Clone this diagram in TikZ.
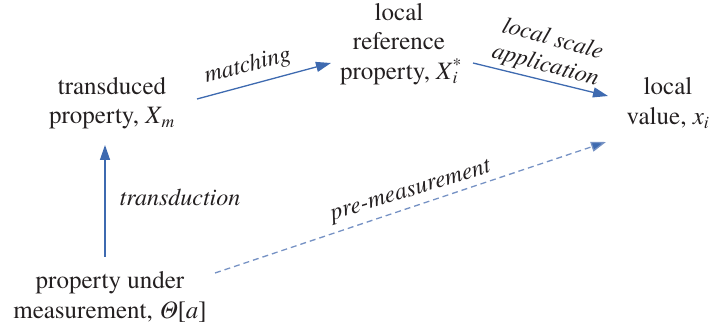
\documentclass[tikz,border=0pt]{standalone}
\usepackage{fontspec}
\setmainfont{texgyretermes}[Extension=.otf,UprightFont=*-regular,ItalicFont=*-italic,BoldFont=*-bold,BoldItalicFont=*-bolditalic]
\usetikzlibrary{arrows.meta}
\definecolor{arrowblue}{RGB}{62,106,176}
\definecolor{dashblue}{RGB}{118,146,196}
\definecolor{txt}{RGB}{35,31,32}
\tikzset{
  state/.style={align=center,text=txt,inner sep=0pt,font=\fontsize{25}{29.5}\selectfont},
  lbl/.style={text=txt,inner sep=0pt,font=\fontsize{24}{27}\selectfont\itshape,align=center},
  conn/.style={draw=arrowblue,line width=1.3pt,-{Triangle[length=15pt,width=10pt,fill=arrowblue]}},
  dconn/.style={draw=dashblue,line width=1.3pt,dash pattern=on 6pt off 4pt,-{Triangle[length=15pt,width=10pt,fill=arrowblue]}}
}
\begin{document}
\begin{tikzpicture}[x=1pt,y=-1pt]
\useasboundingbox (0,0) rectangle (709,328);
\node[state] (tm) at (112,103) {transduced\\property, \textit{X}\textsubscript{\textit{m}}};
\node[state] (lr) at (399,44) {local\\reference\\property, \textit{X}\rlap{\textsuperscript{*}}\textsubscript{\textit{i}}};
\node[state] (lv) at (668,103) {local\\value, \textit{x}\textsubscript{\textit{i}}};
\node[state] (pm) at (110,297) {property under\\measurement, \textit{Θ}[\textit{a}]};
\coordinate (t1) at (105,257);
\coordinate (t2) at (105,145);
\coordinate (m1) at (197,99);
\coordinate (m2) at (331,63);
\coordinate (s1) at (473,63);
\coordinate (s2) at (608,96);
\coordinate (p1) at (215,273);
\coordinate (p2) at (606,142);
\draw[conn] (t1) -- (t2);
\draw[conn] (m1) -- (m2);
\draw[conn] (s1) -- (s2);
\draw[dconn] (p1) -- (p2);
\node[lbl] (lt) at (180,197) {transduction};
\node[lbl,rotate=15] (lm) at (248,66) {matching};
\node[lbl,rotate=-15] (ls) at (549,53) {local scale\\application};
\node[lbl,rotate=17] (lp) at (411,192) {pre-measurement};
\end{tikzpicture}
\end{document}
